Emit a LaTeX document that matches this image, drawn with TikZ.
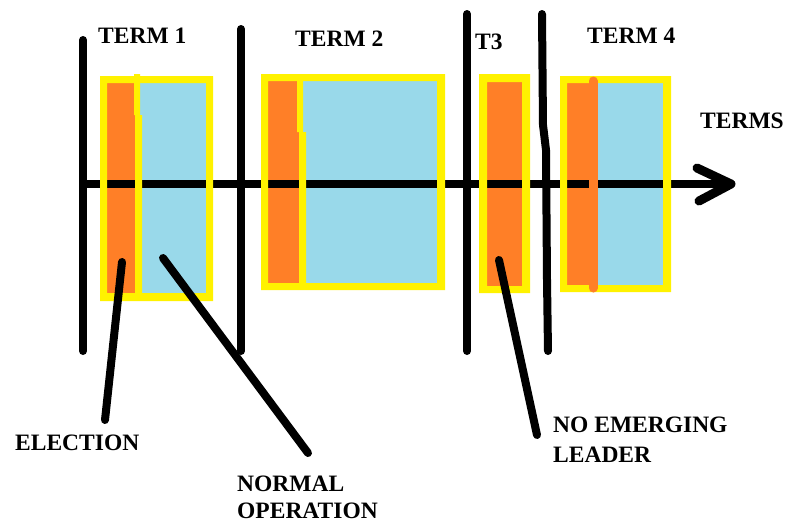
\documentclass[tikz,border=0pt]{standalone}
\usepackage{fontspec}
\setmainfont{Liberation Serif}
\definecolor{elecorange}{HTML}{FF7F27}
\definecolor{opblue}{HTML}{99D9EA}
\definecolor{frameyellow}{HTML}{FFF200}
\begin{document}
\begin{tikzpicture}[x=1pt,y=-1pt,
  lbl/.style={font=\fontsize{23.5}{28}\selectfont\bfseries, inner sep=0pt, anchor=base west},
  boundary/.style={line width=8pt, line cap=round, line join=round},
  pointer/.style={line width=8pt, line cap=round},
  axisline/.style={line width=8pt},
  frame/.style={fill=frameyellow, even odd rule}]
\useasboundingbox[fill=white] (0,0) rectangle (788,522);

% ---- phase fills: election (orange) and normal operation (blue)
% term 1
\fill[elecorange] (107,83) -- (134,83) -- (134,115) -- (135,115) -- (135,293) -- (107,293) -- cycle;
\fill[opblue] (140,83) -- (206,83) -- (206,293) -- (142,293) -- (142,115) -- (140,115) -- cycle;
% term 2
\fill[elecorange] (268,81) -- (297,81) -- (297,132) -- (299,132) -- (299,283) -- (268,283) -- cycle;
\fill[opblue] (303,81) -- (437,81) -- (437,283) -- (306,283) -- (306,132) -- (303,132) -- cycle;
% term 3
\fill[elecorange] (487,82) rectangle (522,286);
% term 4
\fill[elecorange] (567,83) rectangle (593,285);
\fill[opblue] (593,83) rectangle (663,285);

% ---- time axis
\coordinate (axstart) at (83,184);
\coordinate (axend) at (731,184);
\coordinate (tipup) at (697,168);
\coordinate (tipdown) at (699,201);
\draw[axisline] (axstart) -- (axend);
\draw[line width=9pt, line cap=round, line join=round] (tipup) -- (axend) -- (tipdown);

% ---- yellow frames around each term
\fill[frame] (100,76) rectangle (213,301) (107,83) rectangle (206,293);
\fill[frameyellow] (134,74) -- (140,74) -- (140,115) -- (142,115) -- (142,293) -- (135,293) -- (135,115) -- (134,115) -- cycle;
\fill[frame] (261,74) rectangle (445,290) (268,81) rectangle (437,283);
\fill[frameyellow] (297,81) -- (303,81) -- (303,132) -- (306,132) -- (306,283) -- (299,283) -- (299,132) -- (297,132) -- cycle;
\fill[frame] (479,74) rectangle (530,293) (487,82) rectangle (522,286);
\fill[frame] (560,76) rectangle (671,292) (567,83) rectangle (663,285);
\draw[line width=9pt, line cap=round, elecorange] (593,81) -- (593,288);

% ---- term boundaries
\coordinate (b1t) at (83,40);   \coordinate (b1b) at (83,351);
\coordinate (b2t) at (241,29);  \coordinate (b2b) at (241,351);
\coordinate (b3t) at (467,14);  \coordinate (b3b) at (467,351);
\coordinate (b4t) at (542,14);  \coordinate (b4b) at (548,351);
\draw[boundary] (b1t) -- (b1b);
\draw[boundary] (b2t) -- (b2b);
\draw[boundary] (b3t) -- (b3b);
\draw[boundary] (b4t) -- (543,125) -- (546,150) -- (547,280) -- (b4b);

% ---- titles
\node[lbl] (t1) at (98,43) {TERM 1};
\node[lbl] (t2) at (295,46) {TERM 2};
\node[lbl] (t3) at (475,49) {T3};
\node[lbl] (t4) at (587,43) {TERM 4};
\node[lbl] (terms) at (700,128) {TERMS};

% ---- callouts
\node[lbl] (election) at (15,450) {ELECTION};
\node[lbl] (normal) at (237,491) {NORMAL};
\node[lbl] (operation) at (237,518) {OPERATION};
\node[lbl] (noemerging) at (553,432) {NO EMERGING};
\node[lbl] (leader) at (553,462) {LEADER};

\coordinate (pe1) at (122,262); \coordinate (pe2) at (105,420);
\coordinate (pn1) at (163,258); \coordinate (pn2) at (308,453);
\coordinate (pl1) at (499,260); \coordinate (pl2) at (537,435);
\draw[pointer] (pe1) -- (pe2);
\draw[pointer] (pn1) -- (pn2);
\draw[pointer] (pl1) -- (pl2);
\end{tikzpicture}
\end{document}
